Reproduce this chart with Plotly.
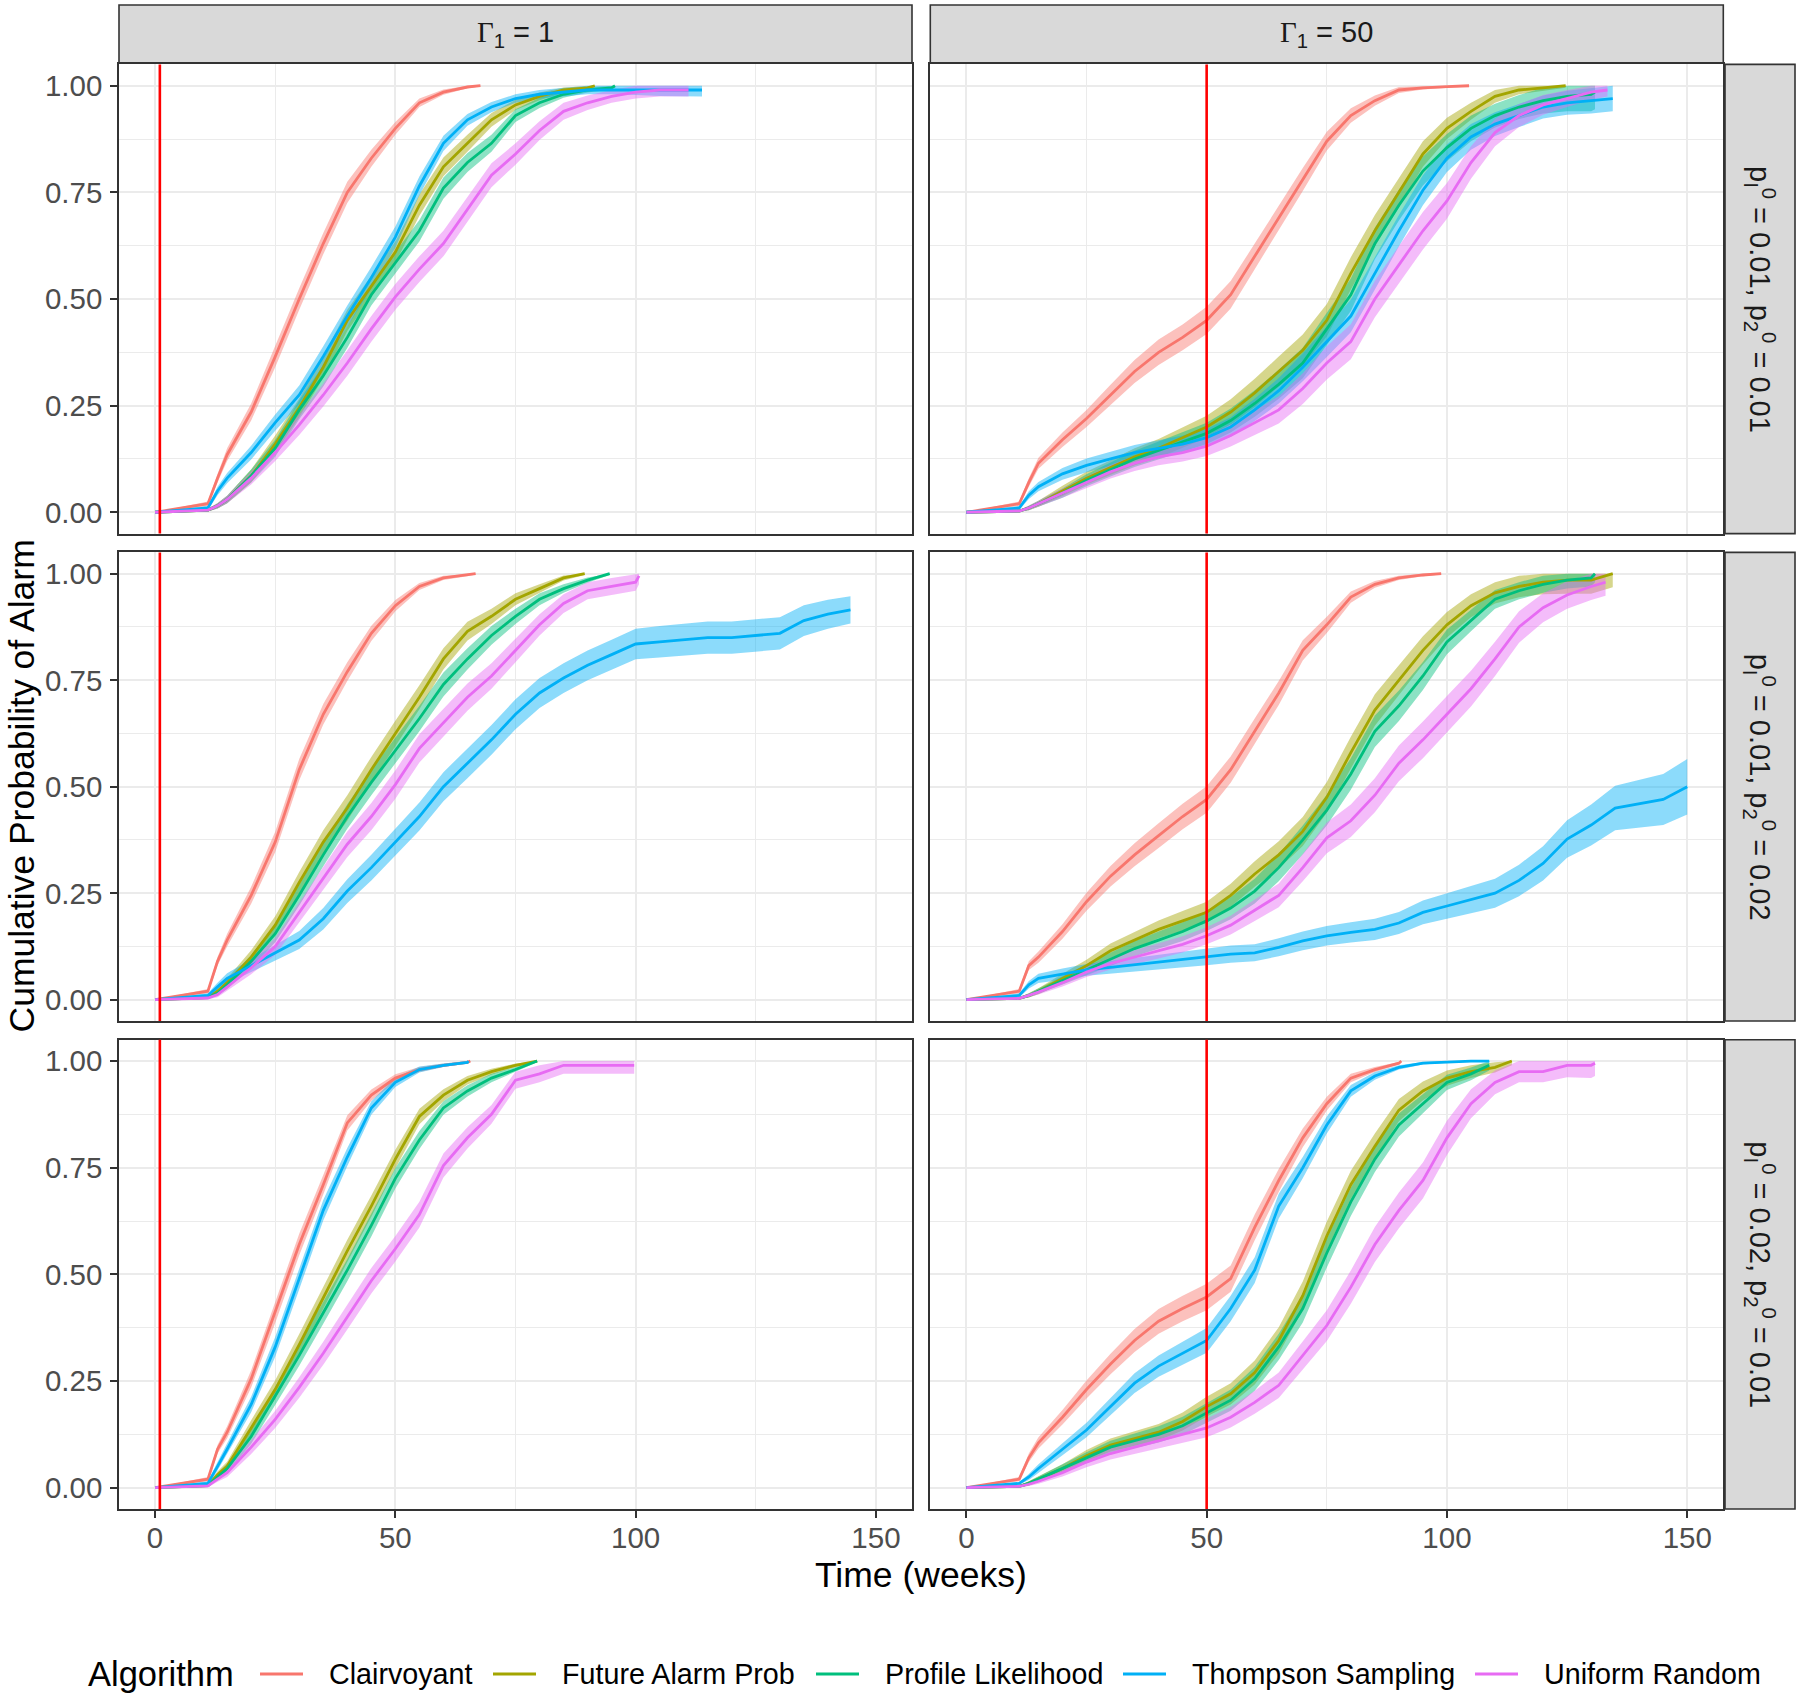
import plotly.graph_objects as go

W, H = 1800, 1699

ALGORITHMS = ["Clairvoyant", "Future Alarm Prob", "Profile Likelihood", "Thompson Sampling", "Uniform Random"]
COLORS = ["#F8766D", "#A3A500", "#00BF7D", "#00B0F6", "#E76BF3"]
COL_LABELS = ["<span style='font-family:Liberation Serif, serif'>Γ</span><sub>1</sub> = 1",
              "<span style='font-family:Liberation Serif, serif'>Γ</span><sub>1</sub> = 50"]
GAMMA_LINE = [1, 50]
ROW_LABELS = [
    "p<sub>I</sub><sup>0</sup> = 0.01, p<sub>2</sub><sup>0</sup> = 0.01",
    "p<sub>I</sub><sup>0</sup> = 0.01, p<sub>2</sub><sup>0</sup> = 0.02",
    "p<sub>I</sub><sup>0</sup> = 0.02, p<sub>2</sub><sup>0</sup> = 0.01",
]
X_TICKS = [0, 50, 100, 150]
Y_TICKS = [0, 0.25, 0.5, 0.75, 1.0]
Y_TICK_TEXT = ["0.00", "0.25", "0.50", "0.75", "1.00"]

GRID = [0, 11, 13, 15, 20, 25, 30, 35, 40, 45, 50, 55, 60, 65, 70, 75, 80, 85, 90,
        95, 100, 105, 110, 115, 120, 125, 130, 135, 140, 145, 150]

# ---- Panel A: Gamma1 = 1, p1 = 0.01, p2 = 0.01
A_CLA = [0, .02, .08, .135, .235, .365, .5, .63, .75, .83, .9, .96, .985, .997, 1.0]
A_FAP = [0, .005, .015, .03, .085, .16, .245, .34, .45, .53, .61, .72, .81, .865, .92, .955, .975, .99, .995, 1.0]
A_PL = [0, .005, .015, .03, .085, .15, .24, .32, .41, .51, .585, .66, .76, .82, .865, .93, .96, .98, .99, .995, 1.0]
A_TS = [0, .01, .05, .08, .14, .21, .275, .365, .46, .55, .645, .765, .865, .92, .95, .97, .98, .985, .99, .99, .99, .99, .99, .99]
A_UR = [0, .005, .015, .03, .08, .14, .205, .275, .35, .43, .505, .57, .63, .71, .79, .84, .895, .94, .96, .975, .985, .99, .99, .99]
A_END = [67.7, 91.5, 95.7, 113.8, 111.0]
A_CLA_HW = [0, .5, 1, 1.5, 2, 2.5, 2.5, 2.5, 2.5, 2, 1.5, 1, .6, .3, .2]
A_FAP_HW = [0, .3, .6, .9, 1.5, 2, 2.2, 2.5, 2.5, 2.5, 2.5, 2.5, 2.2, 2, 1.6, 1.2, .9, .6, .4, .3]
A_PL_HW = [0, .3, .6, .9, 1.5, 2, 2.2, 2.5, 2.5, 2.5, 2.5, 2.5, 2.5, 2.2, 2, 1.5, 1.2, .8, .6, .4, .3]
A_TS_HW = [0, .5, 1, 1.2, 1.6, 1.9, 2.2, 2.4, 2.5, 2.5, 2.5, 2.2, 1.8, 1.4, 1.2, 1, 1, 1, 1, 1, 1.2, 1.4, 1.5, 1.5]
A_UR_HW = [0, .3, .6, .9, 1.5, 2, 2.4, 2.7, 3, 3, 3, 3, 3, 3, 2.8, 2.5, 2.2, 2, 1.7, 1.5, 1.5, 1.5, 1.5, 1.5]

# ---- Panel B: Gamma1 = 50, p1 = 0.01, p2 = 0.01
B_CLA = [0, .02, .07, .115, .17, .22, .275, .33, .375, .41, .45, .51, .6, .69, .78, .87, .93, .965, .99, .995, .998, 1.0]
B_FAP = [0, .003, .01, .02, .05, .08, .105, .13, .15, .175, .2, .235, .28, .33, .38, .45, .56, .66, .75, .84, .9, .94, .975, .99, .995, 1.0]
B_PL = [0, .003, .01, .02, .045, .075, .1, .125, .145, .165, .185, .215, .255, .3, .35, .43, .51, .63, .72, .8, .855, .9, .93, .95, .965, .975, .98, .985]
B_TS = [0, .01, .04, .06, .09, .11, .125, .14, .15, .16, .175, .2, .24, .285, .34, .4, .46, .56, .66, .755, .83, .88, .91, .93, .95, .96, .965, .97]
B_UR = [0, .003, .01, .02, .045, .07, .095, .115, .13, .14, .155, .18, .21, .24, .29, .35, .4, .5, .58, .66, .73, .82, .89, .93, .955, .97, .985, .99]
B_END = [104.6, 124.7, 130.8, 134.5, 133.4]
B_CLA_HW = [0, .5, 1, 1.3, 1.7, 2, 2.4, 2.7, 3, 3, 3.2, 3.2, 3, 3, 2.7, 2.2, 1.7, 1.2, .7, .4, .3, .2]
B_FAP_HW = [0, .2, .5, .7, 1.2, 1.5, 1.7, 2, 2.2, 2.4, 2.6, 3, 3.3, 3.5, 3.7, 3.8, 3.8, 3.7, 3.5, 3, 2.5, 2, 1.5, 1, .8, .5]
B_PL_HW = [0, .2, .5, .7, 1.1, 1.4, 1.6, 1.9, 2.1, 2.3, 2.5, 2.8, 3.1, 3.4, 3.6, 3.8, 3.8, 3.7, 3.6, 3.4, 3.2, 3, 2.8, 2.8, 3, 3.5, 4, 4]
B_TS_HW = [0, .5, .9, 1.1, 1.4, 1.6, 1.7, 1.8, 1.9, 2, 2.1, 2.3, 2.6, 3, 3.3, 3.6, 3.8, 3.8, 3.7, 3.5, 3.2, 3, 2.8, 2.7, 2.7, 2.8, 3, 3]
B_UR_HW = [0, .2, .5, .7, 1.1, 1.4, 1.6, 1.8, 2, 2.1, 2.3, 2.6, 2.9, 3.2, 3.6, 3.9, 4.1, 4.3, 4.4, 4.4, 4.2, 3.8, 3.2, 2.7, 2.3, 2, 1.8, 1.5]

# ---- Panel C: Gamma1 = 1, p1 = 0.01, p2 = 0.02
C_CLA = [0, .02, .09, .14, .245, .37, .54, .67, .77, .86, .925, .97, .99, .997, 1.0]
C_FAP = [0, .005, .02, .04, .1, .175, .275, .37, .45, .54, .625, .71, .8, .865, .9, .94, .965, .99, 1.0]
C_PL = [0, .005, .015, .035, .09, .155, .245, .34, .43, .51, .585, .66, .74, .8, .855, .9, .94, .965, .985, 1.0]
C_TS = [0, .01, .03, .05, .08, .11, .14, .19, .255, .31, .37, .43, .5, .555, .61, .67, .72, .755, .785, .81, .835, .84, .845, .85, .85, .855, .86, .89, .905, .915]
C_UR = [0, .004, .012, .03, .075, .125, .205, .285, .365, .43, .505, .59, .65, .71, .76, .82, .88, .93, .96, .97, .98, .995]
C_END = [66.7, 89.4, 94.6, 144.7, 100.7]
C_CLA_HW = [0, .5, 1, 1.5, 2, 2.4, 2.5, 2.4, 2.2, 1.8, 1.3, .8, .5, .3, .2]
C_FAP_HW = [0, .3, .7, 1, 1.6, 2.1, 2.5, 2.8, 3, 3, 3, 2.8, 2.5, 2.2, 1.8, 1.4, 1, .6, .3]
C_PL_HW = [0, .3, .6, 1, 1.5, 2, 2.4, 2.7, 2.9, 3, 3, 3, 2.8, 2.5, 2.2, 1.8, 1.4, 1, .6, .3]
C_TS_HW = [0, .5, 1, 1.2, 1.5, 1.8, 2.1, 2.5, 2.8, 3, 3.2, 3.3, 3.4, 3.5, 3.5, 3.5, 3.5, 3.5, 3.5, 3.5, 3.6, 3.7, 3.8, 3.8, 3.8, 3.8, 3.8, 3.6, 3.4, 3.2]
C_UR_HW = [0, .3, .6, 1, 1.5, 2, 2.4, 2.7, 3, 3.2, 3.3, 3.3, 3.3, 3.2, 3, 2.8, 2.5, 2.2, 2, 2, 2, 2]

# ---- Panel D: Gamma1 = 50, p1 = 0.01, p2 = 0.02
D_CLA = [0, .02, .08, .1, .16, .23, .29, .34, .385, .43, .47, .54, .63, .72, .82, .88, .945, .975, .99, .997, 1.0]
D_FAP = [0, .003, .01, .02, .05, .08, .115, .14, .165, .185, .205, .245, .295, .34, .395, .475, .58, .68, .75, .82, .88, .925, .955, .97, .98, .985, .985, 1.0]
D_PL = [0, .003, .01, .02, .045, .07, .095, .12, .14, .16, .185, .215, .255, .31, .375, .445, .53, .63, .69, .76, .84, .89, .94, .96, .975, .985, .99, 1.0]
D_TS = [0, .01, .035, .05, .06, .07, .076, .082, .088, .094, .1, .107, .11, .123, .138, .15, .158, .165, .18, .205, .22, .235, .25, .28, .32, .377, .41, .45, .46, .47, .5]
D_UR = [0, .003, .01, .018, .04, .065, .085, .1, .115, .13, .15, .175, .21, .245, .31, .38, .42, .48, .555, .61, .67, .73, .8, .875, .92, .95, .97, .98]
D_END = [98.8, 134.5, 130.8, 150.0, 133.0]
D_CLA_HW = [0, .5, 1, 1.3, 1.7, 2.1, 2.4, 2.7, 2.9, 3, 3.1, 3.1, 3, 2.8, 2.4, 1.9, 1.3, .8, .5, .3, .2]
D_FAP_HW = [0, .2, .5, .7, 1.1, 1.4, 1.7, 1.9, 2.1, 2.3, 2.5, 2.7, 3, 3.2, 3.4, 3.6, 3.7, 3.7, 3.6, 3.3, 3, 2.7, 2.5, 2.5, 2.8, 3.2, 3.2, 3.2]
D_PL_HW = [0, .2, .5, .7, 1, 1.3, 1.6, 1.8, 2, 2.2, 2.4, 2.6, 2.9, 3.2, 3.4, 3.6, 3.7, 3.7, 3.6, 3.3, 2.9, 2.5, 2.2, 2, 2, 2, 2, 2]
D_TS_HW = [0, .5, .9, 1.1, 1.3, 1.4, 1.5, 1.6, 1.7, 1.8, 1.9, 2, 2, 2.1, 2.2, 2.3, 2.4, 2.5, 2.6, 2.8, 3, 3.2, 3.4, 3.7, 4, 4.4, 4.8, 5.2, 5.6, 6, 6.5]
D_UR_HW = [0, .2, .4, .6, .9, 1.2, 1.4, 1.6, 1.8, 1.9, 2, 2.2, 2.5, 2.8, 3.2, 3.6, 3.8, 4, 4.2, 4.3, 4.3, 4.2, 4, 3.7, 3.4, 3.2, 3.2, 3.2]

# ---- Panel E: Gamma1 = 1, p1 = 0.02, p2 = 0.01
E_CLA = [0, .02, .09, .13, .255, .41, .57, .71, .855, .92, .96, .98, .99, .997, 1.0]
E_FAP = [0, .005, .03, .05, .14, .23, .335, .445, .555, .66, .77, .87, .92, .955, .975, .99, 1.0]
E_PL = [0, .005, .025, .045, .12, .215, .31, .41, .51, .615, .725, .815, .89, .93, .96, .98, 1.0]
E_TS = [0, .01, .05, .09, .195, .33, .49, .65, .775, .89, .95, .98, .99, .997, 1.0]
E_UR = [0, .004, .02, .035, .095, .16, .235, .315, .4, .485, .56, .64, .755, .82, .875, .955, .97, .99, .99, .99, .99]
E_END = [65.6, 79.5, 79.5, 65.2, 99.7]
E_CLA_HW = [0, .5, 1, 1.4, 2, 2.4, 2.5, 2.3, 1.8, 1.3, .9, .6, .4, .3, .2]
E_FAP_HW = [0, .3, .8, 1.1, 1.8, 2.2, 2.5, 2.6, 2.6, 2.5, 2.2, 1.8, 1.4, 1, .7, .4, .2]
E_PL_HW = [0, .3, .8, 1.1, 1.7, 2.1, 2.4, 2.6, 2.6, 2.6, 2.4, 2.1, 1.6, 1.3, 1, .6, .3]
E_TS_HW = [0, .5, 1, 1.3, 1.8, 2.3, 2.5, 2.4, 2.1, 1.6, 1.1, .7, .4, .3, .2]
E_UR_HW = [0, .3, .6, 1, 1.6, 2, 2.4, 2.7, 2.9, 3, 3, 3, 2.8, 2.5, 2.2, 2, 2, 2, 2, 2, 2]

# ---- Panel F: Gamma1 = 50, p1 = 0.02, p2 = 0.01
F_CLA = [0, .02, .07, .105, .165, .23, .29, .345, .39, .42, .447, .49, .61, .72, .82, .9, .96, .98, .995, 1.0]
F_FAP = [0, .003, .01, .02, .045, .075, .1, .115, .13, .155, .19, .22, .27, .345, .45, .59, .71, .8, .885, .93, .96, .975, .985, 1.0]
F_PL = [0, .003, .01, .02, .045, .07, .095, .11, .125, .145, .175, .205, .255, .33, .42, .55, .67, .77, .85, .9, .95, .97, .99]
F_TS = [0, .01, .025, .045, .09, .135, .19, .245, .285, .315, .345, .42, .51, .66, .75, .85, .93, .965, .985, .995, .998, 1.0, 1.0]
F_UR = [0, .003, .008, .015, .035, .06, .08, .095, .11, .125, .14, .165, .2, .24, .31, .38, .47, .57, .65, .72, .82, .9, .95, .975, .975, .99, .99, .995]
F_END = [90.5, 113.5, 108.8, 108.8, 130.8]
F_CLA_HW = [0, .5, 1, 1.3, 1.7, 2.1, 2.4, 2.7, 2.9, 3, 3.1, 3.1, 3, 2.7, 2.2, 1.6, 1, .6, .3, .2]
F_FAP_HW = [0, .2, .5, .7, 1, 1.3, 1.5, 1.7, 1.9, 2.1, 2.3, 2.5, 2.8, 3.1, 3.3, 3.4, 3.3, 3, 2.6, 2.2, 1.8, 1.5, 1.2, 1]
F_PL_HW = [0, .2, .5, .7, 1, 1.3, 1.5, 1.7, 1.9, 2.1, 2.3, 2.5, 2.8, 3.1, 3.3, 3.4, 3.3, 3, 2.7, 2.3, 1.8, 1.5, 1.2]
F_TS_HW = [0, .3, .7, 1, 1.4, 1.7, 2, 2.3, 2.5, 2.7, 2.9, 3, 3, 2.9, 2.5, 2, 1.4, .9, .5, .3, .2, .2, .2]
F_UR_HW = [0, .2, .4, .6, .9, 1.2, 1.4, 1.6, 1.8, 2, 2.2, 2.4, 2.7, 3, 3.3, 3.6, 3.9, 4.1, 4.2, 4.2, 4, 3.4, 2.8, 2.5, 2.5, 2.8, 3, 3]

PANELS = [
    (0, 0, [A_CLA, A_FAP, A_PL, A_TS, A_UR], [A_CLA_HW, A_FAP_HW, A_PL_HW, A_TS_HW, A_UR_HW], A_END),
    (0, 1, [B_CLA, B_FAP, B_PL, B_TS, B_UR], [B_CLA_HW, B_FAP_HW, B_PL_HW, B_TS_HW, B_UR_HW], B_END),
    (1, 0, [C_CLA, C_FAP, C_PL, C_TS, C_UR], [C_CLA_HW, C_FAP_HW, C_PL_HW, C_TS_HW, C_UR_HW], C_END),
    (1, 1, [D_CLA, D_FAP, D_PL, D_TS, D_UR], [D_CLA_HW, D_FAP_HW, D_PL_HW, D_TS_HW, D_UR_HW], D_END),
    (2, 0, [E_CLA, E_FAP, E_PL, E_TS, E_UR], [E_CLA_HW, E_FAP_HW, E_PL_HW, E_TS_HW, E_UR_HW], E_END),
    (2, 1, [F_CLA, F_FAP, F_PL, F_TS, F_UR], [F_CLA_HW, F_FAP_HW, F_PL_HW, F_TS_HW, F_UR_HW], F_END),
]

# ---------------- layout geometry (pixels) ----------------
COL_PX = [(119, 912), (930.3, 1723.3)]
ROW_PX = [(64.4, 533.6), (552.4, 1021.0), (1039.7, 1509.0)]
STRIP_TOP_PX = (5, 63)
STRIP_RIGHT_PX = (1725, 1795)

FONT = "Liberation Sans, Arial, sans-serif"
TICK_SIZE = 29.5


def px_x(p):
    return p / W


def px_y(p):
    return 1 - p / H


def rgba(hexc, a):
    h = hexc.lstrip("#")
    return "rgba(%d,%d,%d,%.2f)" % (int(h[0:2], 16), int(h[2:4], 16), int(h[4:6], 16), a)


fig = go.Figure()
layout = {}
shapes = []
annotations = []

for idx, (r, c, series, bands, ends) in enumerate(PANELS):
    n_ax = idx + 1
    xname = "x" if n_ax == 1 else "x%d" % n_ax
    yname = "y" if n_ax == 1 else "y%d" % n_ax
    curves = []
    for k in range(5):
        vals = series[k]
        hw = list(bands[k])
        if len(hw) < len(vals):
            hw = hw + [hw[-1]] * (len(vals) - len(hw))
        hw = hw[:len(vals)]
        n = len(vals) - 1
        xs = GRID[:n] + [ends[k]]
        lo = [max(0.0, v - h / 100.0) for v, h in zip(vals, hw)]
        hi = [min(1.0, v + h / 100.0) for v, h in zip(vals, hw)]
        curves.append((xs, vals))
        fig.add_trace(go.Scatter(
            x=xs + xs[::-1], y=hi + lo[::-1], fill="toself",
            fillcolor=rgba(COLORS[k], 0.45), line=dict(width=0), mode="lines",
            hoverinfo="skip", showlegend=False, xaxis=xname, yaxis=yname))
    for k in range(5):
        xs, vals = curves[k]
        fig.add_trace(go.Scatter(
            x=xs, y=vals, mode="lines", line=dict(color=COLORS[k], width=2.8),
            name=ALGORITHMS[k], showlegend=False, xaxis=xname, yaxis=yname))

    bottom = (r == 2)
    left = (c == 0)
    xk = "xaxis" if n_ax == 1 else "xaxis%d" % n_ax
    yk = "yaxis" if n_ax == 1 else "yaxis%d" % n_ax
    layout[xk] = dict(
        domain=[px_x(COL_PX[c][0]), px_x(COL_PX[c][1])],
        anchor=yname, range=[-7.5, 157.5], tickvals=X_TICKS,
        ticktext=[str(v) for v in X_TICKS],
        showticklabels=bottom, ticks="outside" if bottom else "",
        ticklen=7, tickwidth=2, tickcolor="#333333",
        tickfont=dict(family=FONT, size=TICK_SIZE, color="#4D4D4D"),
        ticklabelstandoff=-5,
        showgrid=True, gridcolor="#EBEBEB", gridwidth=2.2,
        minor=dict(tickvals=[25, 75, 125], showgrid=True, gridcolor="#EBEBEB", gridwidth=1.1, ticks=""),
        zeroline=False, showline=True, mirror=True, linecolor="#333333", linewidth=1.6,
        fixedrange=True,
    )
    layout[yk] = dict(
        domain=[px_y(ROW_PX[r][1]), px_y(ROW_PX[r][0])],
        anchor=xname, range=[-0.05, 1.05], tickvals=Y_TICKS, ticktext=Y_TICK_TEXT,
        showticklabels=left, ticks="outside" if left else "",
        ticklen=7, tickwidth=2, tickcolor="#333333",
        tickfont=dict(family=FONT, size=TICK_SIZE, color="#4D4D4D"),
        ticklabelstandoff=2,
        showgrid=True, gridcolor="#EBEBEB", gridwidth=2.2,
        minor=dict(tickvals=[0.125, 0.375, 0.625, 0.875], showgrid=True, gridcolor="#EBEBEB", gridwidth=1.1, ticks=""),
        zeroline=False, showline=True, mirror=True, linecolor="#333333", linewidth=1.6,
        fixedrange=True,
    )
    shapes.append(dict(type="line", xref=xname, yref=yname + " domain",
                       x0=GAMMA_LINE[c], x1=GAMMA_LINE[c], y0=0, y1=1,
                       line=dict(color="#FF0000", width=2.6), layer="above"))

# strips on top
for c in range(2):
    shapes.append(dict(type="rect", xref="paper", yref="paper",
                       x0=px_x(COL_PX[c][0]), x1=px_x(COL_PX[c][1]),
                       y0=px_y(STRIP_TOP_PX[1]), y1=px_y(STRIP_TOP_PX[0]),
                       fillcolor="#D9D9D9", line=dict(color="#333333", width=1.6), layer="below"))
    annotations.append(dict(xref="paper", yref="paper",
                            x=px_x((COL_PX[c][0] + COL_PX[c][1]) / 2),
                            y=px_y((STRIP_TOP_PX[0] + STRIP_TOP_PX[1]) / 2),
                            text=COL_LABELS[c], showarrow=False,
                            font=dict(family=FONT, size=29, color="#1A1A1A"),
                            xanchor="center", yanchor="middle"))
# strips on the right
for r in range(3):
    shapes.append(dict(type="rect", xref="paper", yref="paper",
                       x0=px_x(STRIP_RIGHT_PX[0]), x1=px_x(STRIP_RIGHT_PX[1]),
                       y0=px_y(ROW_PX[r][1]), y1=px_y(ROW_PX[r][0]),
                       fillcolor="#D9D9D9", line=dict(color="#333333", width=1.6), layer="below"))
    annotations.append(dict(xref="paper", yref="paper",
                            x=px_x((STRIP_RIGHT_PX[0] + STRIP_RIGHT_PX[1]) / 2),
                            y=px_y((ROW_PX[r][0] + ROW_PX[r][1]) / 2),
                            text=ROW_LABELS[r], showarrow=False, textangle=90,
                            font=dict(family=FONT, size=29, color="#1A1A1A"),
                            xanchor="center", yanchor="middle"))

# axis titles
annotations.append(dict(xref="paper", yref="paper", x=px_x(921), y=px_y(1575),
                        text="Time (weeks)", showarrow=False,
                        font=dict(family=FONT, size=35.5, color="black"),
                        xanchor="center", yanchor="middle"))
annotations.append(dict(xref="paper", yref="paper", x=px_x(21), y=px_y(786.5),
                        text="Cumulative Probability of Alarm", showarrow=False, textangle=-90,
                        font=dict(family=FONT, size=35.5, color="black"),
                        xanchor="center", yanchor="middle", borderpad=0))

# legend (drawn manually to match ggplot's bottom legend)
LEG_Y = 1674
annotations.append(dict(xref="paper", yref="paper", x=px_x(86), y=px_y(LEG_Y),
                        text="Algorithm", showarrow=False,
                        font=dict(family=FONT, size=34.5, color="black"),
                        xanchor="left", yanchor="middle"))
LEG_TEXT_X = [327, 560, 883, 1190, 1542]
for k in range(5):
    tx = LEG_TEXT_X[k]
    shapes.append(dict(type="line", xref="paper", yref="paper",
                       x0=px_x(tx - 67), x1=px_x(tx - 24), y0=px_y(LEG_Y), y1=px_y(LEG_Y),
                       line=dict(color=COLORS[k], width=3.2)))
    annotations.append(dict(xref="paper", yref="paper", x=px_x(tx), y=px_y(LEG_Y),
                            text=ALGORITHMS[k], showarrow=False,
                            font=dict(family=FONT, size=28.7, color="black"),
                            xanchor="left", yanchor="middle"))

fig.update_layout(
    width=W, height=H,
    margin=dict(l=0, r=0, t=0, b=0, autoexpand=False),
    paper_bgcolor="white", plot_bgcolor="white",
    showlegend=False,
    shapes=shapes, annotations=annotations,
    **layout,
)

fig.write_html("out.html", config={"displayModeBar": False},
               post_script="document.body.style.margin='0px';")
